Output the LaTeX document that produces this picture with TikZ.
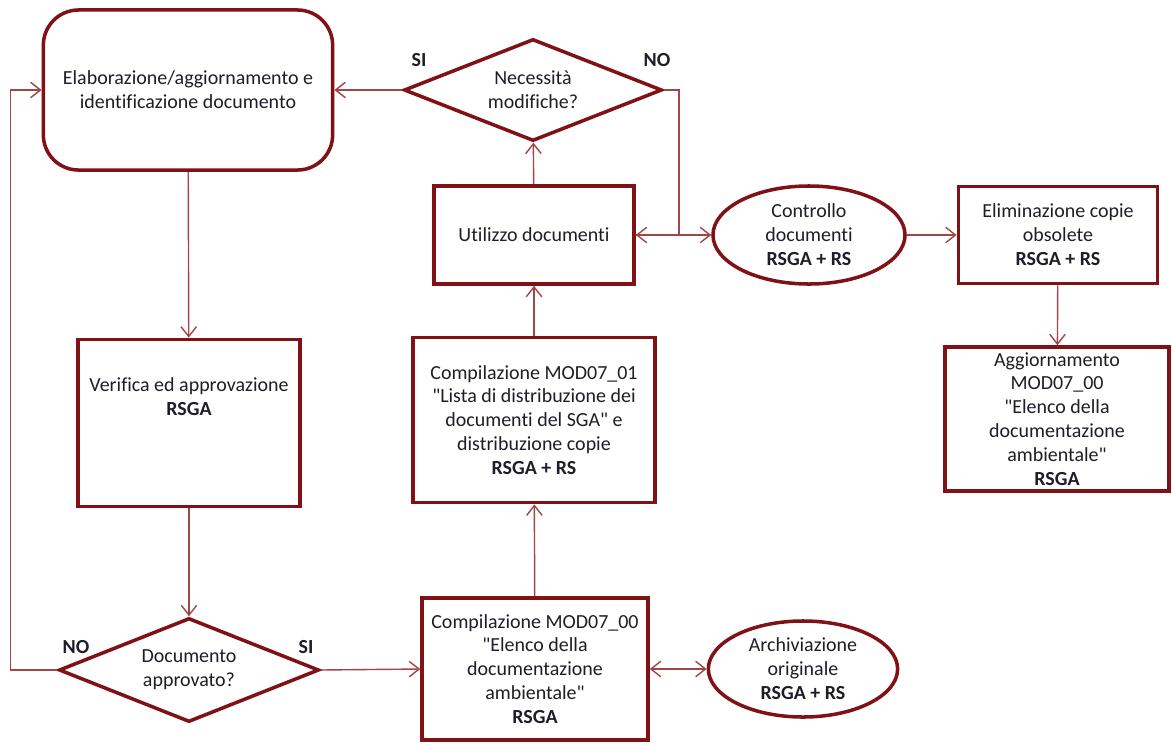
\documentclass[tikz,border=0pt]{standalone}
\usepackage{fontspec}
\setmainfont{Carlito}[Ligatures=NoCommon]
\usetikzlibrary{positioning,arrows.meta,shapes.geometric}
\definecolor{boxred}{RGB}{128,18,22}
\definecolor{linered}{RGB}{160,70,72}
\definecolor{txt}{RGB}{30,30,40}

\begin{document}
\begin{tikzpicture}[x=0.025cm, y=-0.025cm,
  box/.style={draw=boxred, line width=2.5pt, fill=white, align=center,
              text=txt, font=\fontsize{14.2}{17}\selectfont, inner sep=1pt},
  rbox/.style={box, rounded corners=25pt},
  dec/.style={box, diamond, aspect=2.5, inner sep=0pt},
  oval/.style={box, ellipse, inner sep=0pt},
  arr/.style={-{Straight Barb[length=7pt,width=11pt]}, draw=linered, line width=1pt},
  dbl/.style={arr, {Straight Barb[length=7pt,width=11pt]}-{Straight Barb[length=7pt,width=11pt]}},
  yn/.style={font=\bfseries\fontsize{14.2}{17}\selectfont, text=txt},
  lbl/.style={align=center, text=txt, font=\fontsize{14.2}{17}\selectfont}
]
  \useasboundingbox (0,0) rectangle (1172,745);

  % Left column
  \node[rbox, minimum width=7.23cm, minimum height=4cm] (elab) at (188,90)
    {Elaborazione/aggiornamento e\\identificazione documento};
  \node[box, minimum width=5.55cm, minimum height=4.18cm] (verif) at (189,423) {};
  \node[lbl] (veriftxt) at (189,397) {Verifica ed approvazione\\\textbf{RSGA}};
  \node[dec, minimum width=6.5cm, minimum height=2.6cm] (approv) at (189,670)
    {Documento\\approvato?};

  % Middle column
  \node[dec, minimum width=6.45cm, minimum height=2.55cm] (modif) at (533,90)
    {Necessit\`a\\modifiche?};
  \node[box, minimum width=5cm, minimum height=2.45cm] (uso) at (534,235)
    {Utilizzo documenti};
  \node[box, minimum width=6.05cm, minimum height=4.13cm] (mod01) at (534,420)
    {Compilazione MOD07\_01\\\textquotedbl Lista di distribuzione dei\\documenti del SGA\textquotedbl{} e\\distribuzione copie\\\textbf{RSGA + RS}};
  \node[box, minimum width=5.65cm, minimum height=3.55cm] (mod00) at (535,669)
    {Compilazione MOD07\_00\\\textquotedbl Elenco della\\documentazione\\ambientale\textquotedbl\\\textbf{RSGA}};

  % Right side
  \node[oval, minimum width=4.8cm, minimum height=2.45cm] (contr) at (809,235)
    {Controllo\\documenti\\\textbf{RSGA + RS}};
  \node[box, minimum width=4.98cm, minimum height=2.43cm] (elim) at (1058,235)
    {Eliminazione copie\\obsolete\\\textbf{RSGA + RS}};
  \node[box, minimum width=5.6cm, minimum height=3.6cm] (aggior) at (1057,419)
    {Aggiornamento\\MOD07\_00\\\textquotedbl Elenco della\\documentazione\\ambientale\textquotedbl\\\textbf{RSGA}};
  \node[oval, minimum width=4.73cm, minimum height=2.4cm] (archiv) at (803,669)
    {Archiviazione\\originale\\\textbf{RSGA + RS}};

  % Connectors
  \draw[arr] (elab) -- (verif);
  \draw[arr] (verif) -- (approv);
  \draw[arr] (approv.west) -- ++(-47,0) |- (elab.west);
  \draw[arr] (approv.east) -- (mod00.west);
  \draw[arr] (mod00) -- (mod01);
  \draw[arr] (mod01) -- (uso);
  \draw[arr] (uso) -- (modif);
  \draw[arr] (modif.west) -- (elab.east);
  \draw[arr] (modif.east) -- ++(15,0) |- (uso.east);
  \draw[arr] (uso.east) -- (contr.west);
  \draw[arr] (contr.east) -- (elim.west);
  \draw[arr] (elim) -- (aggior);
  \draw[dbl] (mod00.east) -- (archiv.west);

  % Branch labels
  \node[yn] (si1) at (419,60) {SI};
  \node[yn] (no1) at (657,60) {NO};
  \node[yn] (no2) at (76,647) {NO};
  \node[yn] (si2) at (306,647) {SI};
\end{tikzpicture}
\end{document}
